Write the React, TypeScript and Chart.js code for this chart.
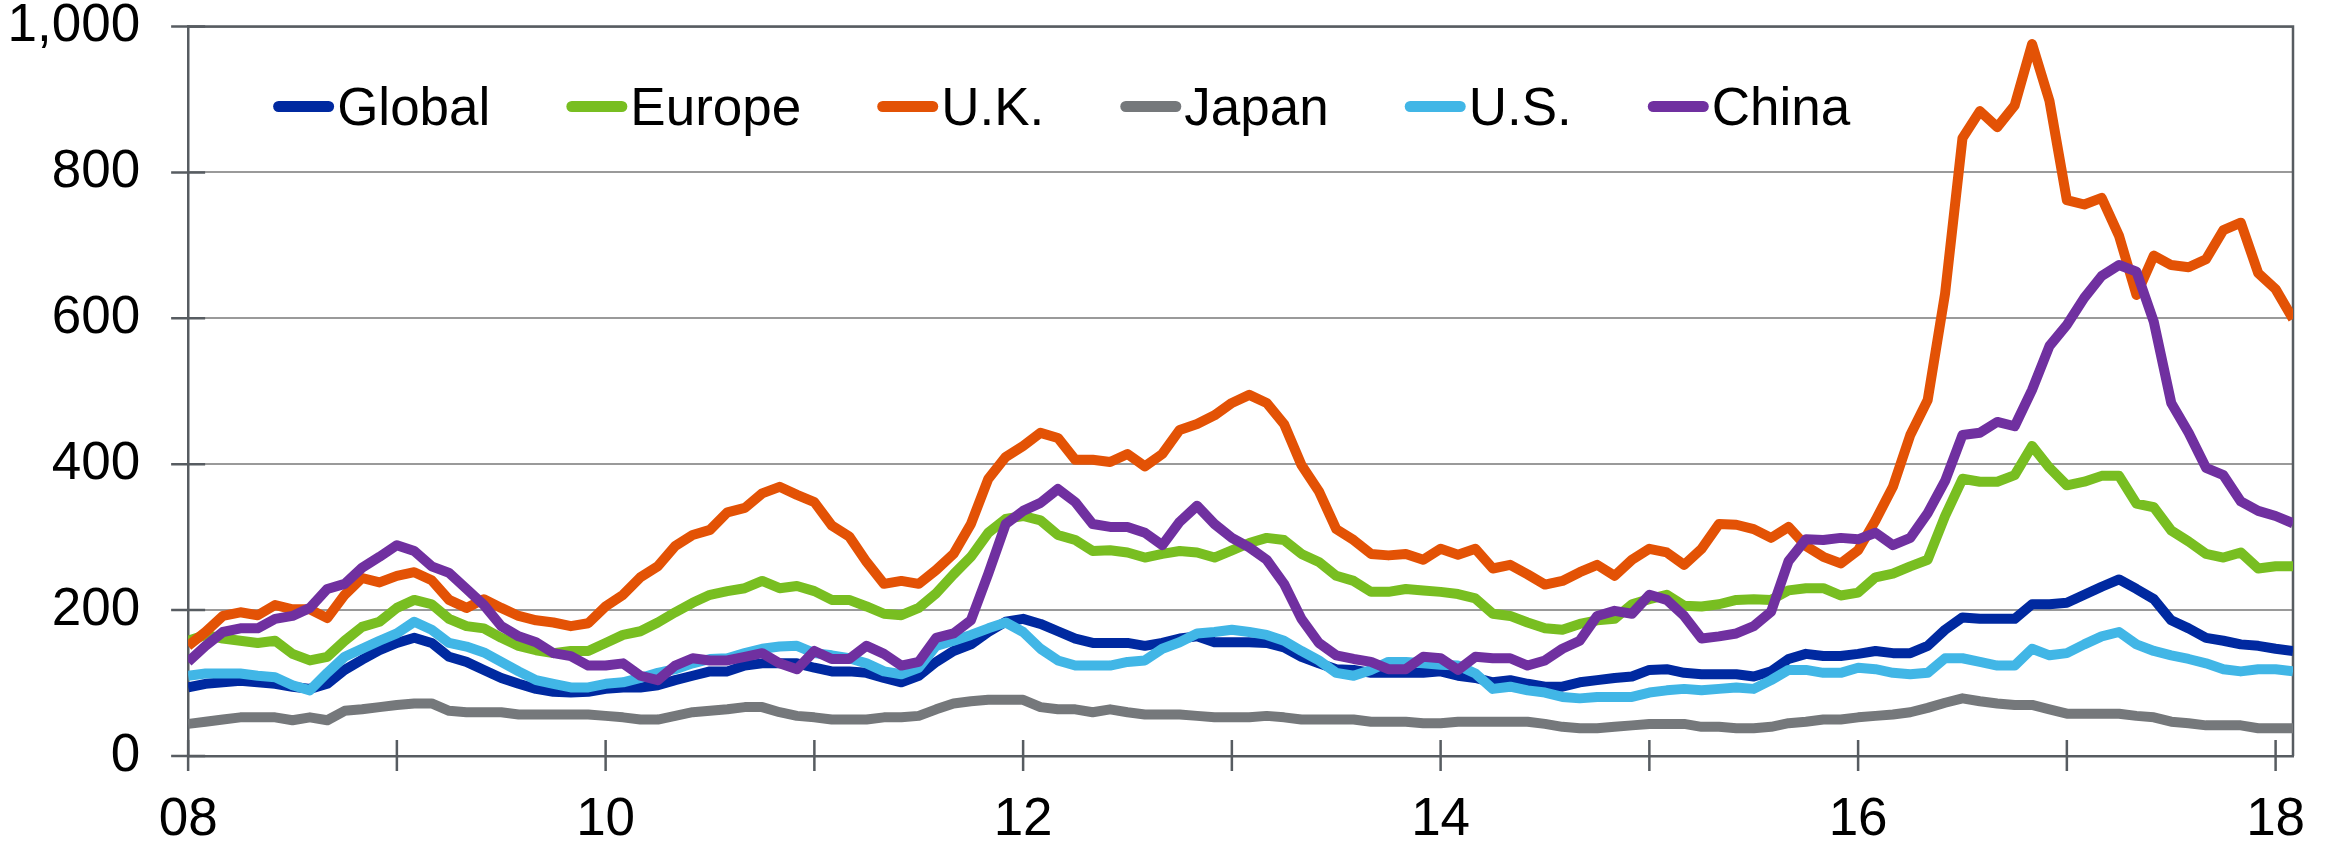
import React, { useEffect, useRef } from 'react';
import { Chart, registerables } from 'chart.js';

Chart.register(...registerables);

// Monthly observations, Jan 2008 (index 0) to Feb 2018 (index 121)
const START_YEAR = 2008;

const GLOBAL = [
  94, 99, 101, 103, 101, 99, 95, 92, 99, 118, 132, 145, 155, 162, 155, 136, 129, 118, 107, 99, 92, 88, 87, 88,
  92, 94, 94, 97, 104, 110, 116, 116, 124, 127, 127, 127, 121, 116, 116, 114, 107, 101, 110, 129, 144, 153, 170, 184,
  188, 181, 171, 161, 155, 155, 155, 151, 155, 161, 164, 156, 156, 156, 155, 149, 136, 127, 119, 118, 114, 114, 114, 114,
  116, 110, 107, 101, 104, 99, 95, 95, 101, 104, 107, 109, 118, 119, 114, 112, 112, 112, 109, 116, 133, 140, 137, 137,
  140, 144, 141, 141, 151, 173, 190, 188, 188, 188, 208, 208, 210, 221, 232, 242, 229, 215, 186, 175, 162, 158, 153, 151,
  147, 144,
];

const EUROPE = [
  158, 166, 161, 158, 155, 158, 140, 131, 136, 158, 177, 184, 203, 214, 208, 188, 178, 175, 162, 151, 145, 141, 144, 144,
  155, 166, 171, 183, 197, 210, 221, 226, 230, 240, 230, 233, 226, 214, 214, 205, 195, 193, 203, 223, 249, 273, 306, 325,
  329, 323, 303, 296, 281, 282, 279, 272, 277, 281, 279, 272, 282, 292, 299, 296, 277, 266, 247, 240, 225, 225, 229, 227,
  225, 222, 216, 195, 192, 183, 175, 173, 181, 186, 188, 208, 215, 221, 206, 205, 208, 214, 215, 214, 227, 230, 230, 220,
  224, 245, 250, 260, 269, 329, 380, 376, 376, 385, 425, 395, 371, 376, 384, 384, 346, 341, 309, 294, 277, 272, 279, 257,
  260, 260,
];

const UK = [
  151, 170, 192, 197, 193, 207, 201, 201, 189, 221, 244, 238, 247, 252, 241, 214, 203, 215, 203, 192, 186, 183, 178, 182,
  205, 221, 245, 260, 288, 303, 310, 334, 340, 360, 369, 358, 348, 316, 301, 266, 236, 240, 236, 255, 277, 318, 380, 410,
  425, 443, 436, 406, 406, 403, 414, 397, 414, 447, 455, 467, 484, 495, 484, 455, 399, 363, 311, 296, 277, 275, 277, 269,
  284, 276, 284, 257, 262, 249, 235, 240, 252, 262, 247, 269, 284, 279, 262, 284, 318, 317, 311, 299, 314, 288, 273, 264,
  282, 323, 369, 440, 488, 634, 847, 884, 862, 892, 976, 898, 762, 756, 765, 713, 632, 686, 673, 670, 681, 721, 731, 662,
  640, 599,
];

const JAPAN = [
  44, 47, 50, 53, 53, 53, 49, 53, 49, 62, 64, 67, 70, 72, 72, 62, 60, 60, 60, 57, 57, 57, 57, 57,
  55, 53, 50, 50, 55, 60, 62, 64, 67, 67, 60, 55, 53, 50, 50, 50, 53, 53, 55, 64, 72, 75, 77, 77,
  77, 67, 64, 64, 60, 64, 60, 57, 57, 57, 55, 53, 53, 53, 55, 53, 50, 50, 50, 50, 47, 47, 47, 45,
  45, 47, 47, 47, 47, 47, 44, 40, 38, 38, 40, 42, 44, 44, 44, 40, 40, 38, 38, 40, 45, 47, 50, 50,
  53, 55, 57, 60, 66, 73, 79, 75, 72, 70, 70, 64, 58, 58, 58, 58, 55, 53, 47, 45, 42, 42, 42, 38,
  38, 38,
];

const US = [
  110, 113, 113, 113, 110, 108, 97, 90, 114, 136, 147, 158, 168, 184, 173, 155, 150, 142, 129, 116, 104, 99, 94, 94,
  99, 101, 107, 114, 119, 127, 133, 134, 141, 147, 150, 151, 141, 138, 134, 127, 116, 112, 121, 151, 158, 166, 175, 183,
  170, 147, 131, 124, 124, 124, 129, 131, 147, 156, 168, 170, 173, 170, 166, 158, 144, 131, 114, 110, 118, 129, 129, 127,
  125, 124, 113, 92, 95, 90, 87, 81, 79, 81, 81, 81, 87, 90, 92, 90, 92, 94, 92, 104, 118, 118, 114, 114,
  121, 119, 114, 112, 114, 134, 134, 129, 124, 124, 147, 138, 141, 153, 164, 170, 153, 144, 138, 133, 127, 119, 116, 119,
  119, 116,
];

const CHINA = [
  129, 151, 170, 175, 175, 188, 192, 203, 229, 236, 258, 273, 289, 281, 260, 251, 229, 207, 178, 164, 156, 141, 137, 124,
  124, 127, 110, 104, 124, 134, 131, 131, 136, 141, 127, 119, 144, 133, 133, 151, 140, 124, 129, 162, 168, 186, 250, 318,
  336, 347, 366, 348, 318, 314, 314, 306, 289, 321, 343, 318, 299, 286, 269, 236, 188, 155, 138, 133, 129, 119, 119, 136,
  134, 118, 136, 134, 134, 124, 131, 147, 158, 192, 199, 195, 221, 214, 192, 161, 164, 168, 178, 198, 267, 297, 296, 299,
  297, 306, 289, 299, 333, 377, 440, 443, 458, 452, 502, 562, 591, 628, 658, 673, 664, 595, 484, 443, 395, 385, 349, 336,
  329, 319,
];

const SERIES_NAMES = ['Global', 'Europe', 'U.K.', 'Japan', 'U.S.', 'China'];
const SERIES_VALUES = [GLOBAL, EUROPE, UK, JAPAN, US, CHINA];
const SERIES_COLORS = ['#0029A0', '#78BE21', '#E35205', '#75787B', '#41B6E6', '#7030A0'];
const DRAW_ORDER = [6, 5, 4, 3, 2, 1]; // lower = drawn on top

// x ticks every January (month index), labelled every second year
const X_TICK_MONTHS = [0, 12, 24, 36, 48, 60, 72, 84, 96, 108, 120];
const YEAR_TICK_LABELS = ['08', '10', '12', '14', '16', '18'];
const Y_TICKS = [0, 200, 400, 600, 800, 1000];

const FONT_FAMILY = '"Liberation Sans", Arial, Helvetica, sans-serif';
const FONT_SIZE = 53;
const FRAME_COLOR = '#575c61';
const GRID_COLOR = '#9a9a9a';

const framePlugin = {
  id: 'frameAndCrossTicks',
  beforeDatasetsDraw(chart: any) {
    const { ctx, chartArea: a, scales } = chart;
    ctx.save();
    ctx.strokeStyle = FRAME_COLOR;
    ctx.lineWidth = 2.5;
    ctx.beginPath();
    ctx.moveTo(a.left, a.top);
    ctx.lineTo(a.right, a.top);
    ctx.lineTo(a.right, a.bottom);
    ctx.stroke();
    ctx.beginPath();
    scales.x.ticks.forEach((t: any) => {
      const px = scales.x.getPixelForValue(t.value);
      ctx.moveTo(px, a.bottom - 16);
      ctx.lineTo(px, a.bottom + 15);
    });
    scales.y.ticks.forEach((t: any) => {
      const py = scales.y.getPixelForValue(t.value);
      ctx.moveTo(a.left - 17, py);
      ctx.lineTo(a.left + 17, py);
    });
    ctx.stroke();
    ctx.restore();
  },
};

const legendPlugin = {
  id: 'inlineLegend',
  afterDatasetsDraw(chart: any) {
    const { ctx, chartArea: a } = chart;
    ctx.save();
    ctx.font = `${FONT_SIZE}px ${FONT_FAMILY}`;
    ctx.textBaseline = 'alphabetic';
    ctx.textAlign = 'left';
    const lineY = a.top + 80;
    const textY = a.top + 98;
    let x = a.left + 85;
    chart.data.datasets.forEach((ds: any) => {
      ctx.strokeStyle = ds.borderColor;
      ctx.lineWidth = 11;
      ctx.lineCap = 'round';
      ctx.beginPath();
      ctx.moveTo(x + 5.5, lineY);
      ctx.lineTo(x + 55.5, lineY);
      ctx.stroke();
      ctx.fillStyle = '#000000';
      ctx.fillText(ds.label, x + 64, textY);
      x += 64 + ctx.measureText(ds.label).width + 76;
    });
    ctx.restore();
  },
};

export default function App() {
  const canvasRef = useRef<HTMLCanvasElement | null>(null);

  useEffect(() => {
    if (!canvasRef.current) return;
    const datasets = SERIES_NAMES.map((name, s) => ({
      label: name,
      data: SERIES_VALUES[s].map((v, i) => ({ x: i, y: v })),
      borderColor: SERIES_COLORS[s],
      backgroundColor: SERIES_COLORS[s],
      borderWidth: 10,
      borderJoinStyle: 'round' as const,
      borderCapStyle: 'butt' as const,
      pointRadius: 0,
      tension: 0,
      fill: false,
      order: DRAW_ORDER[s],
    }));
    const lastIndex = GLOBAL.length - 1;

    const chart = new Chart(canvasRef.current, {
      type: 'line',
      data: { datasets },
      options: {
        animation: false,
        responsive: true,
        maintainAspectRatio: false,
        layout: { padding: { left: 7.5, right: 43, top: 0, bottom: 0 } },
        plugins: {
          legend: { display: false },
          tooltip: { enabled: false },
        },
        scales: {
          x: {
            type: 'linear',
            min: 0,
            max: lastIndex,
            afterBuildTicks: (scale: any) => {
              scale.ticks = X_TICK_MONTHS.map((v) => ({ value: v }));
            },
            ticks: {
              autoSkip: false,
              maxRotation: 0,
              padding: 0,
              color: '#000000',
              font: { family: FONT_FAMILY, size: FONT_SIZE, lineHeight: 1 },
              callback: (value: any) => {
                const v = Number(value);
                if (v % 24 !== 0) return '';
                const label = YEAR_TICK_LABELS[v / 24];
                return label === undefined ? String(START_YEAR + v / 12).slice(2) : label;
              },
            },
            grid: {
              drawOnChartArea: false,
              drawTicks: true,
              tickLength: 38,
              tickColor: 'rgba(0,0,0,0)',
            },
            border: { display: true, color: FRAME_COLOR, width: 2.5 },
          },
          y: {
            type: 'linear',
            min: Y_TICKS[0],
            max: Y_TICKS[Y_TICKS.length - 1],
            afterBuildTicks: (scale: any) => {
              scale.ticks = Y_TICKS.map((v) => ({ value: v }));
            },
            ticks: {
              padding: 0,
              color: '#000000',
              font: { family: FONT_FAMILY, size: FONT_SIZE, lineHeight: 1 },
              callback: (value: any) => Number(value).toLocaleString('en-US'),
            },
            grid: {
              color: GRID_COLOR,
              lineWidth: 2,
              drawTicks: true,
              tickLength: 48,
              tickColor: 'rgba(0,0,0,0)',
            },
            border: { display: true, color: FRAME_COLOR, width: 2.5 },
          },
        },
      },
      plugins: [framePlugin, legendPlugin],
    });
    return () => chart.destroy();
  }, []);

  return (
    <div style={{ position: 'fixed', left: 0, top: 0, width: 2336, height: 847, background: '#ffffff' }}>
      <canvas ref={canvasRef} />
    </div>
  );
}
